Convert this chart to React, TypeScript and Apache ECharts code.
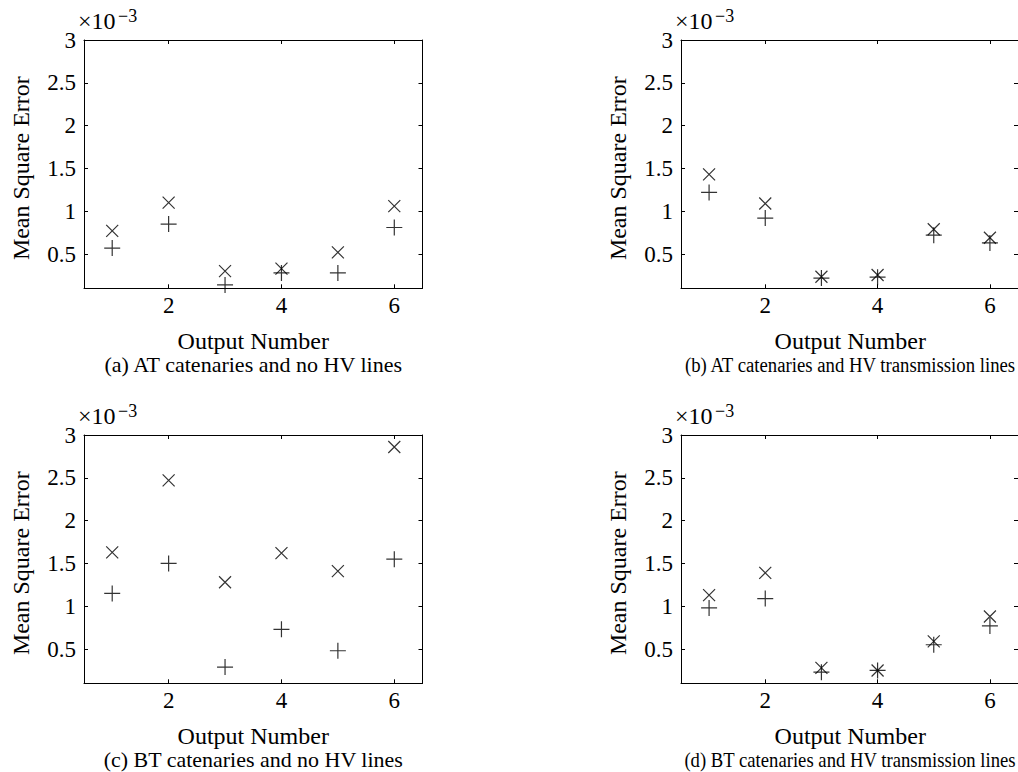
import React, { useEffect, useRef } from "react";
import * as echarts from "echarts";

// Output numbers (x axis)
const outputNumbers = [1, 2, 3, 4, 5, 6];
// Mean square error values, in units of 1e-3
const atNoHvCross = [0.77, 1.1, 0.3, 0.33, 0.52, 1.06];
const atNoHvPlus = [0.57, 0.85, 0.14, 0.28, 0.28, 0.81];
const atHvCross = [1.43, 1.09, 0.235, 0.255, 0.79, 0.69];
const atHvPlus = [1.22, 0.92, 0.22, 0.23, 0.72, 0.63];
const btNoHvCross = [1.63, 2.47, 1.28, 1.62, 1.41, 2.86];
const btNoHvPlus = [1.15, 1.5, 0.29, 0.73, 0.48, 1.55];
const btHvCross = [1.13, 1.39, 0.28, 0.25, 0.59, 0.88];
const btHvPlus = [0.98, 1.09, 0.23, 0.25, 0.55, 0.77];

const xTicks = [2, 4, 6];
const yTicks = [0.5, 1, 1.5, 2, 2.5, 3];
const yTickLabels = ["0.5", "1", "1.5", "2", "2.5", "3"];
const captions = [
  "(a) AT catenaries and no HV lines",
  "(b) AT catenaries and HV transmission lines",
  "(c) BT catenaries and no HV lines",
  "(d) BT catenaries and HV transmission lines",
];
const panels = [
  { cross: atNoHvCross, plus: atNoHvPlus },
  { cross: atHvCross, plus: atHvPlus },
  { cross: btNoHvCross, plus: btNoHvPlus },
  { cross: btHvCross, plus: btHvPlus },
];

const FONT = "Liberation Serif";
const gridBoxes = [
  { left: 84, top: 40, captionWidth: 300 },
  { left: 681, top: 40, captionWidth: 332 },
  { left: 84, top: 435, captionWidth: 300 },
  { left: 681, top: 435, captionWidth: 332 },
];
const GW = 338.5;
const GH = 248.3;
const CAPTION_FONT = `20px '${FONT}'`;

function measure(text: string, font: string): number {
  const c = document.createElement("canvas").getContext("2d");
  if (!c) return 0;
  c.font = font;
  return c.measureText(text).width;
}

export default function App() {
  const ref = useRef<HTMLDivElement>(null);
  useEffect(() => {
    const chart = echarts.init(ref.current!, undefined, { renderer: "svg" });
    const grid: any[] = [];
    const xAxis: any[] = [];
    const yAxis: any[] = [];
    const series: any[] = [];
    const graphic: any[] = [];
    const lineStyle = { color: "#000", width: 1 };
    gridBoxes.forEach((g, i) => {
      grid.push({ left: g.left, top: g.top, width: GW, height: GH, show: false });
      const xBase = {
        type: "value",
        gridIndex: i,
        min: 0.5,
        max: 6.5,
        splitLine: { show: false },
        axisLine: { show: true, onZero: false, lineStyle },
        axisTick: { show: true, inside: true, length: 4, customValues: xTicks, lineStyle },
      };
      xAxis.push({
        ...xBase,
        position: "bottom",
        axisLabel: {
          customValues: xTicks,
          color: "#000",
          fontFamily: FONT,
          fontSize: 23,
          margin: 6,
        },
      });
      xAxis.push({ ...xBase, position: "top", axisLabel: { show: false } });
      const yBase = {
        type: "value",
        gridIndex: i,
        min: 0.1,
        max: 3,
        splitLine: { show: false },
        axisLine: { show: true, onZero: false, lineStyle },
        axisTick: { show: true, inside: true, length: 4, customValues: yTicks, lineStyle },
      };
      yAxis.push({
        ...yBase,
        position: "left",
        axisLabel: {
          customValues: yTicks,
          color: "#000",
          fontFamily: FONT,
          fontSize: 23,
          margin: 8,
          formatter: (v: number) => yTickLabels[yTicks.indexOf(v)] ?? String(v),
        },
      });
      yAxis.push({ ...yBase, position: "right", axisLabel: { show: false } });
      const p = panels[i];
      series.push({
        type: "scatter",
        xAxisIndex: i * 2,
        yAxisIndex: i * 2,
        symbol: "path://M0,0L10,10M10,0L0,10",
        symbolSize: 12,
        itemStyle: { color: "none", borderColor: "#000", borderWidth: 1.2 },
        data: outputNumbers.map((x, k) => [x, p.cross[k]]),
      });
      series.push({
        type: "scatter",
        xAxisIndex: i * 2,
        yAxisIndex: i * 2,
        symbol: "path://M5,0L5,10M0,5L10,5",
        symbolSize: 16,
        itemStyle: { color: "none", borderColor: "#000", borderWidth: 1.2 },
        data: outputNumbers.map((x, k) => [x, p.plus[k]]),
      });
      const cx = g.left + GW / 2;
      const bottom = g.top + GH;
      graphic.push({
        type: "text",
        style: {
          x: cx,
          y: bottom + 53,
          text: "Output Number",
          fill: "#000",
          font: `24px '${FONT}'`,
          align: "center",
          verticalAlign: "middle",
        },
      });
      const natural = measure(captions[i], CAPTION_FONT);
      const sx = natural > 0 ? g.captionWidth / natural : 1;
      graphic.push({
        type: "text",
        x: i % 2 === 1 ? 850 : cx,
        y: bottom + 77,
        scaleX: sx,
        style: {
          x: 0,
          y: 0,
          text: captions[i],
          fill: "#000",
          font: CAPTION_FONT,
          align: "center",
          verticalAlign: "middle",
        },
      });
      graphic.push({
        type: "text",
        x: i % 2 === 1 ? 21 + 597 : 21,
        y: g.top + GH / 2 + 4,
        rotation: Math.PI / 2,
        style: {
          x: 0,
          y: 0,
          text: "Mean Square Error",
          fill: "#000",
          font: `24px '${FONT}'`,
          align: "center",
          verticalAlign: "middle",
        },
      });
      graphic.push({
        type: "text",
        style: {
          x: g.left - 6,
          y: g.top - 19,
          text: "×10",
          fill: "#000",
          font: `24px '${FONT}'`,
          align: "left",
          verticalAlign: "middle",
        },
      });
      graphic.push({
        type: "text",
        style: {
          x: g.left + 34,
          y: g.top - 24,
          text: "−3",
          fill: "#000",
          font: `18px '${FONT}'`,
          align: "left",
          verticalAlign: "middle",
        },
      });
    });
    chart.setOption({
      animation: false,
      backgroundColor: "#fff",
      grid,
      xAxis,
      yAxis,
      series,
      graphic,
    });
    return () => chart.dispose();
  }, []);
  return (
    <div
      ref={ref}
      style={{ position: "fixed", left: 0, top: 0, width: 1018, height: 772 }}
    />
  );
}
